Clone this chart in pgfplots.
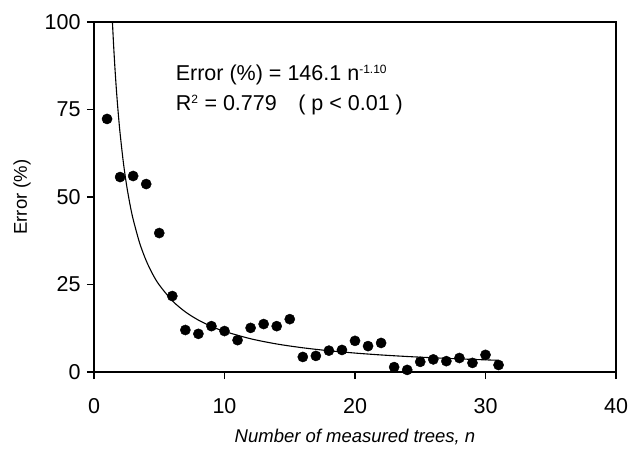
\documentclass[border=0pt]{standalone}
\usepackage{fontspec}
\setmainfont{Liberation Sans}
\usepackage{pgfplots}
\pgfplotsset{compat=1.18}
\begin{document}
\begin{tikzpicture}
\begin{axis}[
  scale only axis, width=522pt, height=350pt,
  xmin=0, xmax=40, ymin=0, ymax=100,
  xtick={0,10,20,30,40}, ytick={0,25,50,75,100},
  tick align=outside, xtick pos=left, ytick pos=left,
  major tick length=7pt,
  axis line style={line width=1.3pt},
  every tick/.style={line width=1.3pt, black},
  /pgf/number format/assume math mode=true,
  ticklabel style={font=\fontsize{21.5}{24}\selectfont},
  xticklabel style={yshift=-16pt},
  yticklabel style={xshift=-3pt},
  xlabel={\itshape Number of measured trees, n},
  ylabel={Error (\%)},
  label style={font=\fontsize{18.5}{20}\selectfont},
  xlabel style={yshift=-8pt},
  ylabel style={yshift=7pt},
  clip=true,
]
\addplot[black, line width=1.1pt, smooth] coordinates {
(1.4,100.9) (1.5,93.53) (1.6,87.12) (1.7,81.50) (1.8,76.53) (1.9,72.12) (2,68.16)
(2.25,59.87) (2.5,53.32) (2.75,48.02) (3,43.63) (3.5,36.83) (4,31.80) (4.5,27.93)
(5,24.88) (6,20.36) (7,17.18) (8,14.83) (9,13.03) (10,11.60) (12,9.50) (14,8.01)
(16,6.92) (18,6.08) (20,5.41) (22,4.87) (24,4.43) (26,4.06) (28,3.74) (30,3.47) (31,3.34)
};
\addplot[only marks, mark=*, mark size=5.1pt, black] coordinates {
(1,72.3) (2,55.7) (3,56.0) (4,53.7) (5,39.7) (6,21.7) (7,12.0) (8,10.9)
(9,13.1) (10,11.7) (11,9.1) (12,12.6) (13,13.7) (14,13.1) (15,15.1) (16,4.3)
(17,4.6) (18,6.1) (19,6.3) (20,8.9) (21,7.4) (22,8.3) (23,1.4) (24,0.6)
(25,2.9) (26,3.6) (27,3.1) (28,4.0) (29,2.6) (30,4.9) (31,2.0)
};
\node[anchor=west, font=\fontsize{21.5}{24}\selectfont] at (axis cs:6,84.9) {Error (\%) = 146.1 n\textsuperscript{\fontsize{12}{13}\selectfont -1.10}};
\node[anchor=west, font=\fontsize{21.5}{24}\selectfont] at (axis cs:6,76.3) {R\textsuperscript{\fontsize{12}{13}\selectfont 2} = 0.779\hspace{1em}( p < 0.01 )};
\end{axis}
\pgfresetboundingbox
\path (current axis.south west) ++(-94pt,-80pt) coordinate (bl);
\path (current axis.north east) ++(14pt,22pt) coordinate (tr);
\path[use as bounding box] (bl) rectangle (tr);
\end{tikzpicture}
\end{document}
